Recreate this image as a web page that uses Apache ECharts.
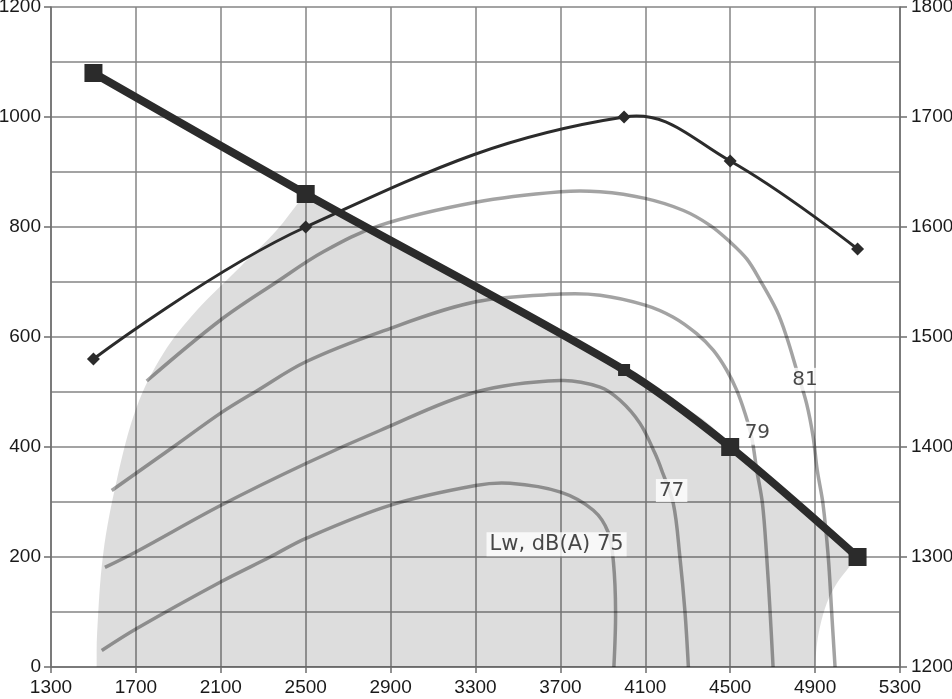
<!DOCTYPE html>
<html><head><meta charset="utf-8">
<script src="https://cdn.jsdelivr.net/npm/echarts@6/dist/echarts.min.js"></script>
<style>html,body{margin:0;padding:0;background:#fff}#c{width:952px;height:699px}</style>
</head><body><div id="c"></div>
<script>
// Airflow (x) values of the operating points
const flowX = [1500, 2500, 4000, 4500, 5100];
// Static pressure, left axis
const pressure = [1080, 860, 540, 400, 200];
const pressureSymbolSizes = [18, 18, 12, 18, 18];
// Speed, right axis
const speed = [1480, 1600, 1700, 1660, 1580];

// Shaded working-area boundary (corner points repeated to keep them sharp)
const shadeBoundary = [
  [1515, 0], [1515, 0], [1517, 60], [1546, 206], [1610, 340], [1704, 473], [1829, 570],
  [1986, 648], [2190, 727], [2363, 794], [2473, 848], [2500, 861], [2500, 861],
  [4000, 540], [4280, 473], [4405, 440], [4500, 400], [5100, 200], [5100, 200], [5049, 176], [5002, 152],
  [4955, 116], [4923, 73], [4907, 36], [4900, 0], [4900, 0]
];

// Sound power contour curves
const lw75 = [[1539, 30], [1704, 70], [2101, 155], [2332, 200], [2501, 234], [2897, 294], [3301, 330],
  [3463, 334], [3701, 318], [3855, 285], [3925, 245], [3950, 190], [3960, 100], [3952, 0]];
const lw77 = [[1554, 181], [1704, 210], [2101, 294], [2501, 370], [2850, 430], [3301, 500], [3701, 521],
  [3887, 509], [3981, 485], [4075, 443], [4146, 388], [4177, 358], [4232, 297], [4263, 200], [4287, 100], [4303, 0]];
const lw79 = [[1586, 321], [1876, 400], [2101, 462], [2269, 502], [2501, 555], [2850, 609], [3301, 664],
  [3701, 678], [3887, 676], [4099, 658], [4232, 636], [4342, 606], [4420, 576], [4483, 540], [4531, 503],
  [4570, 461], [4601, 418], [4625, 358], [4652, 297], [4672, 200], [4688, 100], [4702, 0]];
const lw81 = [[1751, 520], [2096, 630], [2363, 700], [2583, 755], [2850, 803], [3301, 845], [3701, 864],
  [3887, 864], [4099, 852], [4280, 830], [4405, 803], [4499, 773], [4578, 742], [4641, 703], [4719, 648],
  [4766, 600], [4813, 540], [4860, 479], [4891, 418], [4910, 358], [4937, 297], [4962, 200], [4978, 100], [4994, 0]];

// Contour labels
const contourLabelText = ['Lw, dB(A) 75', '77', '79', '81'];
const contourLabelPos = [[3682, 223], [4224, 321], [4628, 425], [4852, 523]];
const contourLabelSize = [21, 20, 20, 20];

const xTickMin = 1300, xTickMax = 5300, xTickStep = 400;
const leftMin = 0, leftMax = 1200, leftStep = 200;
const rightMin = 1200, rightMax = 1800, rightStep = 100;

const gridColor = '#858585';
const axisColor = '#6e6e6e';
const axisFont = {fontFamily: '"Liberation Sans", Arial, sans-serif', fontSize: 19, color: '#1a1a1a',
  formatter: v => String(v)};
const contourStyle = {color: 'rgba(0,0,0,0.36)', width: 3.5};
const darkLine = '#2b2b2b';

function curveSeries(points, yAxisIndex, style, smooth, z) {
  return {
    type: 'custom', yAxisIndex: yAxisIndex, z: z, silent: true, data: points,
    renderItem: function (params, api) {
      if (params.dataIndex !== 0) return null;
      return {
        type: 'polyline',
        shape: {points: points.map(p => api.coord(p)), smooth: smooth},
        style: {stroke: style.color, lineWidth: style.width, fill: null, lineJoin: 'round', lineCap: 'butt'}
      };
    }
  };
}

const chart = echarts.init(document.getElementById('c'), null, {renderer: 'canvas'});
chart.setOption({
  animation: false,
  backgroundColor: '#fff',
  grid: {left: 51, right: 52, top: 7, bottom: 32, containLabel: false, outerBoundsMode: 'none'},
  xAxis: {
    type: 'value', min: xTickMin, max: xTickMax, interval: xTickStep,
    axisLine: {show: true, onZero: false, lineStyle: {color: axisColor, width: 1.5}},
    axisTick: {show: true, length: 6, lineStyle: {color: axisColor, width: 1.5}},
    axisLabel: Object.assign({margin: 11}, axisFont),
    splitLine: {show: true, lineStyle: {color: gridColor, width: 1.5}}
  },
  yAxis: [{
    type: 'value', min: leftMin, max: leftMax, interval: leftStep,
    axisLine: {show: true, lineStyle: {color: axisColor, width: 1.5}},
    axisTick: {show: true, length: 7, lineStyle: {color: axisColor, width: 1.5}},
    axisLabel: Object.assign({margin: 10}, axisFont),
    splitLine: {show: true, lineStyle: {color: gridColor, width: 1.5}},
    minorTick: {show: false, splitNumber: 2},
    minorSplitLine: {show: true, lineStyle: {color: gridColor, width: 1.5}}
  }, {
    type: 'value', position: 'right', min: rightMin, max: rightMax, interval: rightStep,
    axisLine: {show: true, lineStyle: {color: axisColor, width: 1.5}},
    axisTick: {show: true, length: 7, lineStyle: {color: axisColor, width: 1.5}},
    axisLabel: Object.assign({margin: 11}, axisFont),
    splitLine: {show: false}
  }],
  series: [
    {
      type: 'custom', silent: true, z: 1,
      data: shadeBoundary,
      renderItem: function (params, api) {
        if (params.dataIndex !== 0) return null;
        const pts = shadeBoundary.map(p => api.coord(p));
        return {type: 'polygon', shape: {points: pts, smooth: 0.35}, style: {fill: 'rgba(0,0,0,0.135)'}};
      }
    },
    curveSeries(lw75, 0, contourStyle, 0.35, 2),
    curveSeries(lw77, 0, contourStyle, 0.35, 2),
    curveSeries(lw79, 0, contourStyle, 0.35, 2),
    curveSeries(lw81, 0, contourStyle, 0.35, 2),
    {
      type: 'scatter', z: 3, symbolSize: 0, silent: true,
      data: contourLabelPos.map((p, i) => ({
        value: p, name: contourLabelText[i],
        label: {fontSize: contourLabelSize[i]}
      })),
      label: {
        show: true, position: 'inside', formatter: '{b}',
        fontFamily: '"DejaVu Sans", Verdana, sans-serif', color: '#1a1a1a',
        backgroundColor: '#fff', padding: [2, 3, 1, 3]
      }
    },
    curveSeries(flowX.map((x, i) => [x, speed[i]]), 1, {color: darkLine, width: 3}, 0.4, 4),
    {
      type: 'scatter', yAxisIndex: 1, z: 4, silent: true,
      data: flowX.map((x, i) => [x, speed[i]]),
      symbol: 'diamond', symbolSize: 13, itemStyle: {color: darkLine, opacity: 1}
    },
    curveSeries(flowX.map((x, i) => [x, pressure[i]]), 0, {color: darkLine, width: 8}, 0.3, 5),
    {
      type: 'scatter', yAxisIndex: 0, z: 5, silent: true,
      data: flowX.map((x, i) => ({value: [x, pressure[i]], symbolSize: pressureSymbolSizes[i]})),
      symbol: 'rect', itemStyle: {color: darkLine, opacity: 1}
    }
  ]
});
</script>
</body></html>
